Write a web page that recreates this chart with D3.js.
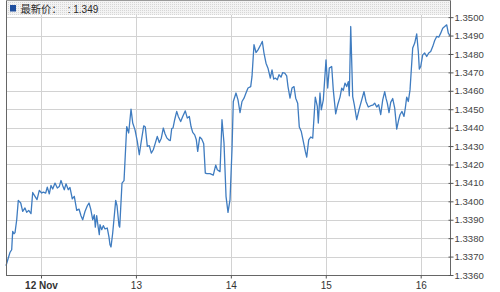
<!DOCTYPE html>
<html><head><meta charset="utf-8">
<script src="https://cdn.jsdelivr.net/npm/d3@7/dist/d3.min.js"></script>
<style>
html,body{margin:0;padding:0;background:#fff;}
svg{display:block;}
</style></head>
<body>
<svg id="chart" width="500" height="292"></svg>
<script>
// hours since 12 Nov 00:00
const hours = [-8.85,-8.27,-7.84,-7.41,-7.16,-6.83,-6.57,-6.14,-5.74,-5.13,-4.63,-4.05,-3.62,-3.11,-2.53,-2.10,-1.52,-1.01,-0.43,0.18,
0.58,1.19,1.59,2.10,2.53,2.96,3.54,4.12,4.63,5.06,5.49,5.89,6.32,6.90,7.33,7.91,8.42,9.03,9.61,10.11,
10.54,11.12,11.71,12.14,12.57,13.07,13.48,13.73,14.08,14.49,14.74,14.92,15.35,15.75,16.18,16.76,17.19,17.45,17.70,18.13,
18.89,19.22,19.72,19.90,20.48,20.99,21.67,22.17,22.76,23.19,23.77,24.35,24.85,25.28,25.97,26.37,26.88,27.38,27.89,28.39,
28.90,29.40,29.91,30.42,30.92,31.35,31.86,32.29,32.69,33.05,33.37,33.80,34.31,34.71,35.32,35.83,36.48,36.99,37.50,37.93,
38.36,38.86,39.27,39.62,40.13,40.63,41.14,41.54,41.97,42.73,43.56,44.17,44.58,45.26,45.76,46.27,46.78,47.28,47.79,48.29,
48.62,49.30,49.81,50.32,50.82,51.33,51.83,52.34,53.02,53.35,53.85,54.36,54.87,55.55,55.95,56.38,56.89,57.39,57.98,58.41,
58.84,59.24,59.75,60.18,60.68,61.11,61.62,62.12,62.45,62.96,63.46,63.97,64.40,64.90,65.31,65.81,66.32,66.83,67.18,67.69,
68.19,68.70,69.35,69.86,70.11,70.54,70.87,71.38,72.06,72.49,72.89,73.50,73.90,74.51,75.02,75.60,76.03,76.43,76.86,77.29,
77.70,77.95,78.31,78.81,79.22,79.82,80.40,81.09,81.67,82.17,82.75,83.36,83.87,84.37,84.88,85.38,85.89,86.40,86.90,87.23,
87.56,87.99,88.42,88.93,89.43,89.94,90.44,90.77,91.28,91.78,92.11,92.46,92.87,93.30,93.98,94.49,94.99,95.40,95.65,96.00,
96.51,97.01,97.52,98.03,98.53,99.04,99.54,100.05,100.56,101.06,101.57,102.58,102.98,103.41];

const prices = [1.33650,1.33692,1.33723,1.33737,1.33837,1.33824,1.33830,1.33900,1.34005,1.33991,1.33945,1.33964,1.33940,1.33951,1.33933,1.34048,1.34027,1.34009,1.34059,1.34045,
1.34050,1.34045,1.34077,1.34040,1.34086,1.34067,1.34099,1.34072,1.34081,1.34113,1.34085,1.34063,1.34095,1.34063,1.34075,1.34014,1.34027,1.33951,1.33958,1.33922,
1.33900,1.33945,1.33976,1.33991,1.33958,1.33900,1.33927,1.33860,1.33922,1.33855,1.33819,1.33873,1.33846,1.33868,1.33850,1.33855,1.33806,1.33764,1.33752,1.33828,
1.34005,1.33976,1.33868,1.33860,1.34099,1.34112,1.34406,1.34371,1.34501,1.34425,1.34388,1.34325,1.34253,1.34316,1.34410,1.34403,1.34298,1.34302,1.34262,1.34280,
1.34316,1.34352,1.34319,1.34343,1.34398,1.34367,1.34343,1.34334,1.34330,1.34395,1.34398,1.34443,1.34488,1.34461,1.34433,1.34461,1.34491,1.34452,1.34461,1.34406,
1.34374,1.34361,1.34334,1.34271,1.34349,1.34338,1.34312,1.34153,1.34150,1.34150,1.34142,1.34197,1.34171,1.34161,1.34443,1.34316,1.34027,1.33940,1.34009,1.34280,
1.34542,1.34588,1.34551,1.34482,1.34542,1.34560,1.34588,1.34615,1.34623,1.34678,1.34850,1.34808,1.34822,1.34850,1.34868,1.34805,1.34750,1.34723,1.34669,1.34714,
1.34664,1.34669,1.34660,1.34687,1.34674,1.34699,1.34696,1.34681,1.34623,1.34560,1.34615,1.34623,1.34560,1.34533,1.34403,1.34379,1.34325,1.34271,1.34240,1.34334,
1.34349,1.34343,1.34566,1.34515,1.34425,1.34588,1.34497,1.34551,1.34768,1.34615,1.34723,1.34732,1.34605,1.34475,1.34524,1.34566,1.34615,1.34602,1.34642,1.34623,
1.34650,1.34573,1.34949,1.34569,1.34524,1.34443,1.34497,1.34551,1.34596,1.34542,1.34512,1.34519,1.34522,1.34533,1.34512,1.34524,1.34471,1.34551,1.34596,1.34560,
1.34533,1.34482,1.34537,1.34558,1.34506,1.34392,1.34443,1.34470,1.34488,1.34461,1.34506,1.34566,1.34542,1.34605,1.34832,1.34859,1.34909,1.34813,1.34718,1.34732,
1.34795,1.34805,1.34786,1.34805,1.34813,1.34840,1.34873,1.34895,1.34891,1.34913,1.34940,1.34958,1.34913,1.34900];

const dayNumbers = [12, 13, 14, 15, 16];
const dayLabels = ["12 Nov", "13", "14", "15", "16"];
const yTickValues = [1.336,1.337,1.338,1.339,1.340,1.341,1.342,1.343,1.344,1.345,1.346,1.347,1.348,1.349,1.350];
const headerName = "最新价：";
const headerSep = ": ";

(function () {
const base = new Date(2012, 10, 12, 0, 0, 0);
const data = hours.map((h, i) => ({ t: new Date(base.getTime() + h * 3600e3), v: prices[i] }));
const dayDates = dayNumbers.map(d => new Date(2012, 10, d));

const pLeft = 6, pRight = 450, pTop = 14, pBottom = 275;
const svg = d3.select("#chart");

const x = d3.scaleTime().domain(d3.extent(data, d => d.t)).range([pLeft, pRight]);
const y = d3.scaleLinear().domain([1.336, 1.35017]).range([pBottom, pTop]);

const font = "'Liberation Sans', Arial, 'Noto Sans CJK SC', sans-serif";

// gridlines
const grid = svg.append("g").attr("shape-rendering", "crispEdges");
grid.selectAll(".hg").data(yTickValues).join("line")
  .attr("x1", pLeft).attr("x2", pRight)
  .attr("y1", d => Math.round(y(d)) + 0.5).attr("y2", d => Math.round(y(d)) + 0.5)
  .attr("stroke", "#d2d2d2").attr("stroke-width", 1);
grid.selectAll(".vg").data(dayDates).join("line")
  .attr("x1", d => Math.round(x(d)) + 0.5).attr("x2", d => Math.round(x(d)) + 0.5)
  .attr("y1", pTop).attr("y2", pBottom)
  .attr("stroke", "#d2d2d2").attr("stroke-width", 1);

// header band
const defs = svg.append("defs");
const pat = defs.append("pattern").attr("id", "dots").attr("width", 2).attr("height", 2)
  .attr("patternUnits", "userSpaceOnUse");
pat.append("rect").attr("width", 2).attr("height", 2).attr("fill", "#f3f3f3");
pat.append("rect").attr("width", 1).attr("height", 1).attr("fill", "#d6d6d6");
svg.append("rect").attr("x", pLeft).attr("y", 0).attr("width", pRight - pLeft).attr("height", 15)
  .attr("fill", "url(#dots)");
svg.append("rect").attr("x", pLeft + 4).attr("y", 5).attr("width", 6).attr("height", 6.5)
  .attr("fill", "#1f4f9e");
const ht = svg.append("text").attr("x", pLeft + 14.5).attr("y", 13)
  .attr("font-family", font).attr("font-size", 10).attr("fill", "#2a2a2a");
ht.append("tspan").attr("font-size", 10.3).text(headerName);
ht.append("tspan").attr("dx", 6).text(headerSep + prices[prices.length - 1].toFixed(3));

// line
svg.append("path").datum(data)
  .attr("fill", "none").attr("stroke", "#3f7cc0").attr("stroke-width", 1.3)
  .attr("stroke-linejoin", "round")
  .attr("d", d3.line().x(d => x(d.t)).y(d => y(d.v)));

// frame lines
const frame = svg.append("g").attr("shape-rendering", "crispEdges").attr("stroke", "#666");
frame.append("line").attr("x1", pLeft + 0.5).attr("x2", pLeft + 0.5).attr("y1", 0).attr("y2", pBottom + 1);
frame.append("line").attr("x1", pLeft).attr("x2", pRight + 1).attr("y1", pBottom + 0.5).attr("y2", pBottom + 0.5);
frame.append("line").attr("x1", pRight + 0.5).attr("x2", pRight + 0.5).attr("y1", 0).attr("y2", pBottom + 1);
frame.append("line").attr("x1", pLeft).attr("x2", pRight + 1).attr("y1", 0.5).attr("y2", 0.5).attr("stroke", "#999");

// right axis
const ay = svg.append("g").attr("transform", `translate(${pRight + 0.5},0)`)
  .call(d3.axisRight(y).tickValues(yTickValues).tickFormat(d3.format(".4f")).tickSizeInner(3).tickSizeOuter(0).tickPadding(1));
ay.select(".domain").remove();
ay.selectAll(".tick line").attr("x1", -2).attr("stroke", "#555");
ay.selectAll("text").attr("font-family", font).attr("font-size", 9.6).attr("fill", "#444");

// bottom axis
const ax = svg.append("g").attr("transform", `translate(0,${pBottom + 0.5})`)
  .call(d3.axisBottom(x).tickValues(dayDates).tickFormat((d, i) => dayLabels[i]).tickSizeInner(3).tickSizeOuter(0).tickPadding(3));
ax.select(".domain").remove();
ax.selectAll(".tick line").attr("stroke", "#555");
ax.selectAll("text").attr("font-family", font).attr("font-size", 10).attr("fill", "#333")
  .attr("font-weight", (d, i) => i === 0 ? "bold" : "normal");
})();
</script>
</body></html>
